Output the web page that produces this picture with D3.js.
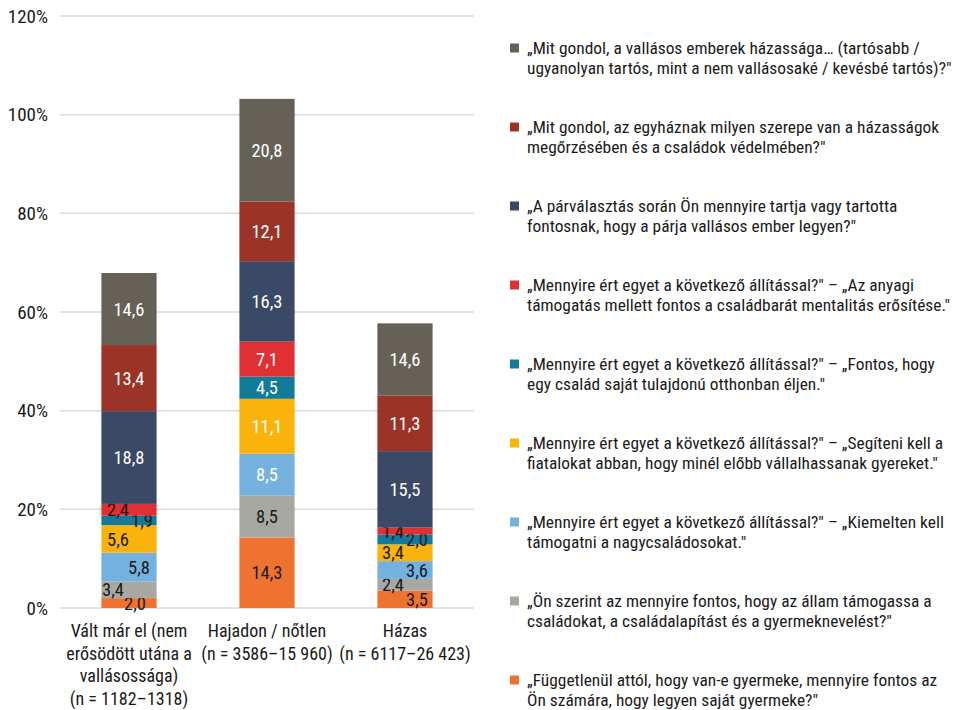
<!DOCTYPE html>
<html>
<head>
<meta charset="utf-8">
<script src="https://cdn.jsdelivr.net/npm/d3@7"></script>
<style>
  body { margin: 0; background: #fff; }
  svg text { font-family: "Roboto Condensed", Roboto, "Noto Sans", sans-serif; fill: #1a1a1a; }
</style>
</head>
<body>
<div id="chart"></div>
<script>
// categories (x axis), each split in display lines
var categories = ['valt', 'hajadon', 'hazas'];
var categoryLines = [
  ['Vált már el (nem', 'erősödött utána a', 'vallásossága)', '(n = 1182–1318)'],
  ['Hajadon / nőtlen', '(n = 3586–15 960)'],
  ['Házas', '(n = 6117–26 423)']
];

// series, bottom to top
var seriesKeys = ['fugg', 'allam', 'kiem', 'segit', 'otthon', 'anyagi', 'parval', 'egyhaz', 'tartos'];
var seriesColors = ['#ee7331', '#a8a8a3', '#74b1de', '#f9b30a', '#127b99', '#e03033', '#394966', '#9b3426', '#666157'];

var valt    = [2.0, 3.4, 5.8, 5.6, 1.9, 2.4, 18.8, 13.4, 14.6];
var hajadon = [14.3, 8.5, 8.5, 11.1, 4.5, 7.1, 16.3, 12.1, 20.8];
var hazas   = [3.5, 2.4, 3.6, 3.4, 2.0, 1.4, 15.5, 11.3, 14.6];

var yTicks = [0, 20, 40, 60, 80, 100, 120];

// legend, top to bottom (reverse of stack order)
var legendKeys = ['tartos', 'egyhaz', 'parval', 'anyagi', 'otthon', 'segit', 'kiem', 'allam', 'fugg'];
var legendLines = [
  ['„Mit gondol, a vallásos emberek házassága… (tartósabb /', 'ugyanolyan tartós, mint a nem vallásosaké / kevésbé tartós)?"'],
  ['„Mit gondol, az egyháznak milyen szerepe van a házasságok', 'megőrzésében és a családok védelmében?"'],
  ['„A párválasztás során Ön mennyire tartja vagy tartotta', 'fontosnak, hogy a párja vallásos ember legyen?"'],
  ['„Mennyire ért egyet a következő állítással?" – „Az anyagi', 'támogatás mellett fontos a családbarát mentalitás erősítése."'],
  ['„Mennyire ért egyet a következő állítással?" – „Fontos, hogy', 'egy család saját tulajdonú otthonban éljen."'],
  ['„Mennyire ért egyet a következő állítással?" – „Segíteni kell a', 'fiatalokat abban, hogy minél előbb vállalhassanak gyereket."'],
  ['„Mennyire ért egyet a következő állítással?" – „Kiemelten kell', 'támogatni a nagycsaládosokat."'],
  ['„Ön szerint az mennyire fontos, hogy az állam támogassa a', 'családokat, a családalapítást és a gyermeknevelést?"'],
  ['„Függetlenül attól, hogy van-e gyermeke, mennyire fontos az', 'Ön számára, hogy legyen saját gyermeke?"']
];

// small labels pushed sideways (like the original), px
var labelNudge = {
  valt:  { fugg: 6, allam: -16, kiem: 10, segit: -11, otthon: 13, anyagi: -11 },
  hazas: { fugg: 12, allam: -12, kiem: 12, segit: -12, otthon: 12, anyagi: -12 }
};

var width = 955, height = 710;
var svg = d3.select('#chart').append('svg').attr('width', width).attr('height', height);

var rows = [valt, hajadon, hazas].map(function (vals, i) {
  var r = { cat: categories[i] };
  seriesKeys.forEach(function (k, j) { r[k] = vals[j]; });
  return r;
});

var x = d3.scaleBand().domain(categories).range([60, 474]).paddingInner(0.6).paddingOuter(0.3);
var y = d3.scaleLinear().domain([0, 120]).range([608, 16]);
var color = d3.scaleOrdinal().domain(seriesKeys).range(seriesColors);

// grid
svg.append('g').selectAll('line').data(yTicks).enter().append('line')
  .attr('x1', 60).attr('x2', 474)
  .attr('y1', function (d) { return y(d); }).attr('y2', function (d) { return y(d); })
  .attr('stroke', '#d9d9d9').attr('stroke-width', 1.5);

svg.append('g').selectAll('text').data(yTicks).enter().append('text')
  .attr('x', 48).attr('y', function (d) { return y(d); })
  .attr('dy', '0.35em').attr('text-anchor', 'end')
  .style('font-size', '19px')
  .text(function (d) { return d + '%'; });

var stacked = d3.stack().keys(seriesKeys)(rows);

var layers = svg.append('g').selectAll('g').data(stacked).enter().append('g')
  .attr('fill', function (d) { return color(d.key); });

layers.selectAll('rect').data(function (d) { return d; }).enter().append('rect')
  .attr('x', function (d) { return x(d.data.cat); })
  .attr('width', x.bandwidth())
  .attr('y', function (d) { return y(d[1]); })
  .attr('height', function (d) { return y(d[0]) - y(d[1]); });

// data labels
layers.each(function (layer) {
  var key = layer.key;
  d3.select(this).selectAll('text').data(layer).enter().append('text')
    .attr('x', function (d) {
      var n = labelNudge[d.data.cat] && labelNudge[d.data.cat][key];
      return x(d.data.cat) + x.bandwidth() / 2 + (n || 0);
    })
    .attr('y', function (d) { return (y(d[0]) + y(d[1])) / 2; })
    .attr('dy', '0.36em')
    .attr('text-anchor', 'middle')
    .style('font-size', '18.5px')
    .style('fill', function (d) {
      var nudged = labelNudge[d.data.cat] && labelNudge[d.data.cat][key] !== undefined;
      if (nudged || key === 'fugg' || key === 'allam') return '#1a1a1a';
      return '#ffffff';
    })
    .text(function (d) { return d3.format('.1f')(d[1] - d[0]).replace('.', ','); });
});

// category labels
var catG = svg.append('g').selectAll('text').data(categories).enter().append('text')
  .attr('text-anchor', 'middle')
  .style('font-size', '18px')
  .attr('transform', function (d) { return 'translate(' + (x(d) + x.bandwidth() / 2) + ',637)'; });
catG.selectAll('tspan').data(function (d, i) { return categoryLines[i]; }).enter().append('tspan')
  .attr('x', 0).attr('y', function (d, i) { return i * 22.5; })
  .text(function (d) { return d; });

// legend
var lg = svg.append('g').selectAll('g').data(legendKeys).enter().append('g')
  .attr('transform', function (d, i) { return 'translate(510,' + (48 + i * 79) + ')'; });
lg.append('rect').attr('x', 0).attr('y', -4.5).attr('width', 9).attr('height', 9)
  .attr('fill', function (d) { return color(d); });
var lt = lg.append('text').style('font-size', '17.4px');
lt.selectAll('tspan').data(function (d, i) { return legendLines[i]; }).enter().append('tspan')
  .attr('x', 17).attr('y', function (d, i) { return i * 19.5; }).attr('dy', '0.35em')
  .text(function (d) { return d; });
</script>
</body>
</html>
